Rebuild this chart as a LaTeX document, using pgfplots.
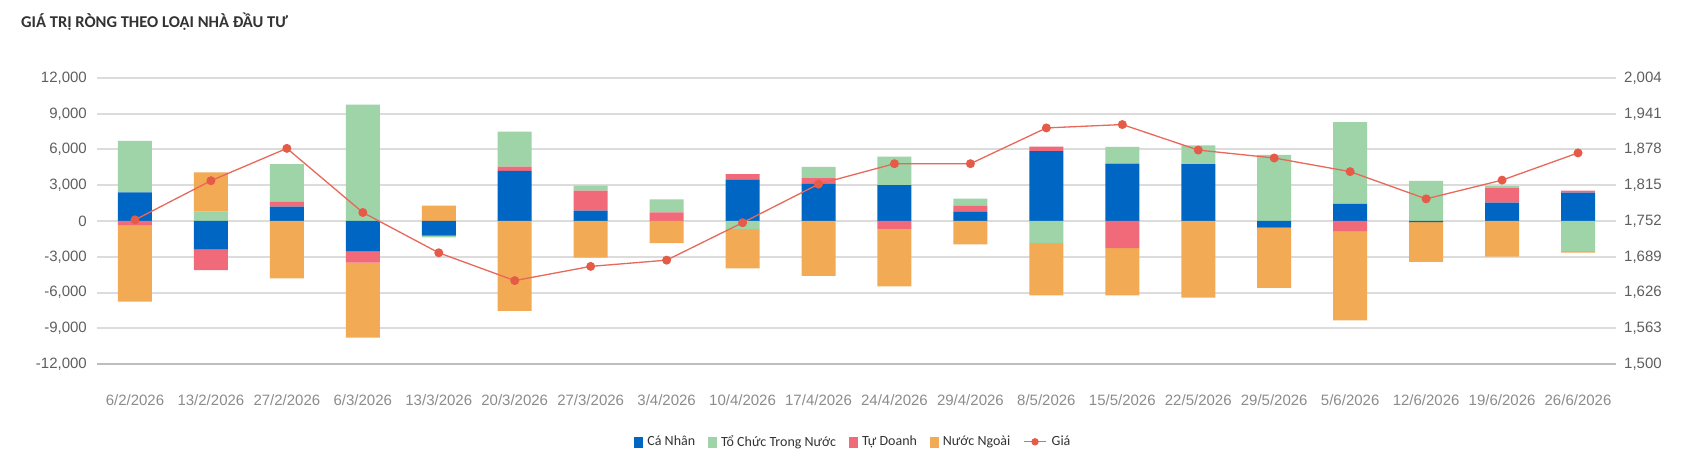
\documentclass[border=0pt]{standalone}
\usepackage{fontspec}
\setmainfont{Liberation Sans}
\newfontfamily\carl{Carlito}
\usepackage{pgfplots}
\usepackage{pgfplotstable}
\pgfplotsset{compat=1.18}

\definecolor{cBlue}{HTML}{0066C4}
\definecolor{cGreen}{HTML}{9FD4A8}
\definecolor{cPink}{HTML}{F06A7A}
\definecolor{cOrange}{HTML}{F2AA55}
\definecolor{cLine}{HTML}{E8685A}
\definecolor{cDot}{HTML}{E65A48}
\definecolor{cGrid}{HTML}{DCDCDC}
\definecolor{cGridDark}{HTML}{BDBDBD}
\definecolor{cTick}{HTML}{5F5F5F}
\definecolor{cX}{HTML}{8C8C8C}
\definecolor{cTitle}{HTML}{333333}

\pgfplotstableread{
x CN TC TD NN P
0 2410 4320 -390 -6370 1754
1 -2355 790 -1770 3280 1823
2 1205 3170 390 -4820 1880
3 -2520 9760 -980 -6280 1767
4 -1230 -140 0 1290 1696
5 4200 2940 365 -7540 1647
6 870 420 1680 -3080 1672
7 0 1090 730 -1850 1683
8 3450 -670 480 -3310 1749
9 3110 950 480 -4600 1817
10 3000 2410 -700 -4790 1853
11 760 620 500 -1960 1853
12 5860 -1850 390 -4400 1916
13 4820 1400 -2270 -3980 1922
14 4770 1570 0 -6420 1877
15 -560 5550 0 -5050 1863
16 1430 6870 -900 -7430 1839
17 -100 3360 0 -3320 1791
18 1540 140 1260 -3000 1824
19 2380 -2520 170 -140 1872
}\data

\pgfplotsset{
  base/.style={
    scale only axis, width=1519pt, height=286pt,
    xmin=-0.5, xmax=19.5, scaled y ticks=false,
    axis line style={draw=none}, tick style={draw=none},
  },
  bars/.style={base, ybar stacked, bar width=34pt, ymin=-12000, ymax=12000},
}

\begin{document}
\begin{tikzpicture}
\fill[white] (-97pt,-110pt) rectangle (1597pt,364pt);
\useasboundingbox (-97pt,-110pt) rectangle (1597pt,364pt);

\node[anchor=west, font=\carl\bfseries\fontsize{16.5}{18}\selectfont, text=cTitle, inner sep=0pt] at (-76pt,342pt) {GIÁ TRỊ RÒNG THEO LOẠI NHÀ ĐẦU TƯ};

% positive stack (with grid and left labels)
\begin{axis}[bars,
  ytick={-12000,-9000,-6000,-3000,0,3000,6000,9000,12000},
  yticklabels={{-12,000},{-9,000},{-6,000},{-3,000},{0},{3,000},{6,000},{9,000},{12,000}},
  ymajorgrids, grid style={cGrid, line width=2pt},
  yticklabel style={font=\fontsize{15}{17}\selectfont, text=cTick, inner sep=0pt, xshift=-10pt},
  xtick={0,...,19},
  xticklabels={6/2/2026,13/2/2026,27/2/2026,6/3/2026,13/3/2026,20/3/2026,27/3/2026,3/4/2026,10/4/2026,17/4/2026,24/4/2026,29/4/2026,8/5/2026,15/5/2026,22/5/2026,29/5/2026,5/6/2026,12/6/2026,19/6/2026,26/6/2026},
  xticklabel style={font=\fontsize{15}{17}\selectfont, text=cX, inner sep=0pt, anchor=north, yshift=-30pt},
]
\draw[cGridDark, line width=2pt] (axis cs:-0.5,-12000) -- (axis cs:19.5,-12000);
\addplot[fill=cBlue, draw=none] table[x=x, y expr={max(\thisrow{CN},0)}]{\data};
\addplot[fill=cPink, draw=none] table[x=x, y expr={max(\thisrow{TD},0)}]{\data};
\addplot[fill=cGreen, draw=none] table[x=x, y expr={max(\thisrow{TC},0)}]{\data};
\addplot[fill=cOrange, draw=none] table[x=x, y expr={max(\thisrow{NN},0)}]{\data};
\end{axis}

% negative stack
\begin{axis}[bars, ytick=\empty, xtick=\empty]
\addplot[fill=cBlue, draw=none] table[x=x, y expr={min(\thisrow{CN},0)}]{\data};
\addplot[fill=cPink, draw=none] table[x=x, y expr={min(\thisrow{TD},0)}]{\data};
\addplot[fill=cGreen, draw=none] table[x=x, y expr={min(\thisrow{TC},0)}]{\data};
\addplot[fill=cOrange, draw=none] table[x=x, y expr={min(\thisrow{NN},0)}]{\data};
\end{axis}

% price line, right axis
\begin{axis}[base, ymin=1500, ymax=2004,
  axis y line*=right, xtick=\empty,
  ytick={1500,1563,1626,1689,1752,1815,1878,1941,2004},
  yticklabels={{1,500},{1,563},{1,626},{1,689},{1,752},{1,815},{1,878},{1,941},{2,004}},
  yticklabel style={font=\fontsize{15}{17}\selectfont, text=cTick, inner sep=0pt, xshift=8pt, anchor=west},
  legend columns=-1,
  legend style={at={(0.498,-0.272)}, anchor=center, draw=none, fill=none,
    font=\carl\fontsize{14}{16}\selectfont, text=cTitle,
    /tikz/every odd column/.append style={column sep=3pt},
    /tikz/every even column/.append style={column sep=11pt}},
]
\addlegendimage{legend image code/.code={\fill[cBlue] (0pt,-5pt) rectangle (7.5pt,5pt);}}
\addlegendimage{legend image code/.code={\fill[cGreen] (0pt,-5pt) rectangle (7.5pt,5pt);}}
\addlegendimage{legend image code/.code={\fill[cPink] (0pt,-5pt) rectangle (7.5pt,5pt);}}
\addlegendimage{legend image code/.code={\fill[cOrange] (0pt,-5pt) rectangle (7.5pt,5pt);}}
\addplot[cLine, line width=1.3pt, mark=*, mark size=3.8pt, mark options={fill=cDot, draw=cDot},
  legend image code/.code={\draw[cLine, line width=1.3pt] (0pt,0pt) -- (22pt,0pt); \fill[cDot] (11pt,0pt) circle (3pt);}]
  table[x=x, y=P]{\data};
\legend{Cá Nhân, Tổ Chức Trong Nước, Tự Doanh, Nước Ngoài, Giá}
\end{axis}
\end{tikzpicture}
\end{document}
